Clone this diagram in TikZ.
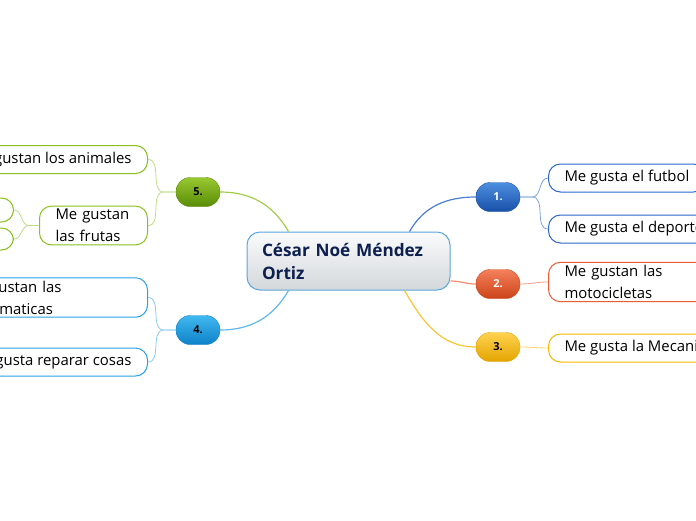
\documentclass[tikz,border=0pt]{standalone}
\usepackage{fontspec}
\setmainfont{Open Sans}
\usetikzlibrary{positioning,calc}
\definecolor{CoreLine}{RGB}{90,165,220}
\definecolor{CoreTop}{RGB}{250,251,252}
\definecolor{CoreBot}{RGB}{212,216,219}
\definecolor{CoreText}{RGB}{13,31,79}
\definecolor{OneTop}{RGB}{78,142,224}
\definecolor{OneBot}{RGB}{24,80,168}
\definecolor{OneLine}{RGB}{42,102,204}
\definecolor{TwoTop}{RGB}{244,128,92}
\definecolor{TwoBot}{RGB}{204,68,24}
\definecolor{TwoLine}{RGB}{238,90,48}
\definecolor{ThreeTop}{RGB}{255,210,80}
\definecolor{ThreeBot}{RGB}{227,164,0}
\definecolor{ThreeLine}{RGB}{248,184,0}
\definecolor{FourTop}{RGB}{64,184,240}
\definecolor{FourBot}{RGB}{14,130,200}
\definecolor{FourLine}{RGB}{42,160,232}
\definecolor{FiveTop}{RGB}{152,200,48}
\definecolor{FiveBot}{RGB}{90,140,8}
\definecolor{FiveLine}{RGB}{136,192,32}

\begin{document}
\begin{tikzpicture}[x=1pt, y=1pt,
  every node/.style={font=\fontsize{14.9}{22}\selectfont, align=left},
  ctrbox/.style={draw=CoreLine, line width=1pt, rounded corners=13pt, top color=CoreTop, bottom color=CoreBot,
    text width=173pt, minimum height=58pt, inner xsep=15pt, text=CoreText,
    font=\fontsize{17.2}{23}\selectfont\bfseries},
  topic/.style={rounded corners=14pt, minimum width=44pt, minimum height=29pt, inner sep=0pt,
    align=center, font=\fontsize{11}{13}\selectfont\bfseries},
  leaf/.style={draw, line width=1pt, rounded corners=12pt, fill=white, inner xsep=16pt, inner ysep=3pt,
    minimum height=28pt},
  link/.style={line width=1.2pt},
  twig/.style={line width=0.8pt}]
  \useasboundingbox (0,0) rectangle (696,-520);
  \clip (0,0) rectangle (696,-520);

  \node[ctrbox] (ctr) at (348.5,-261) {César Noé Méndez\\Ortiz};

  \node[topic, top color=OneTop, bottom color=OneBot, draw=OneBot, text=white] (t1) at (498,-197) {1.};
  \node[topic, top color=TwoTop, bottom color=TwoBot, draw=TwoBot, text=white] (t2) at (498,-284) {2.};
  \node[topic, top color=ThreeTop, bottom color=ThreeBot, draw=ThreeBot] (t3) at (498,-347) {3.};
  \node[topic, top color=FourTop, bottom color=FourBot, draw=FourBot] (t4) at (198,-330) {4.};
  \node[topic, top color=FiveTop, bottom color=FiveBot, draw=FiveBot] (t5) at (198,-192) {5.};

  \node[leaf, draw=OneLine, anchor=west] (l11) at (548,-178) {Me gusta el futbol};
  \node[leaf, draw=OneLine, anchor=west] (l12) at (548,-229) {Me gusta el deporte};
  \node[leaf, draw=TwoLine, anchor=west, text width=140pt] (l21) at (548,-282) {Me gustan las\\motocicletas};
  \node[leaf, draw=ThreeLine, anchor=west] (l31) at (548,-348) {Me gusta la Mecanica};
  \node[leaf, draw=FourLine, anchor=east, text width=168pt] (l41) at (148,-297.5) {Me gustan las\\matematicas};
  \node[leaf, draw=FourLine, anchor=east] (l42) at (148,-362) {Me gusta reparar cosas};
  \node[leaf, draw=FiveLine, anchor=east] (l51) at (148,-159.5) {Me gustan los animales};
  \node[leaf, draw=FiveLine, anchor=east, text width=76pt] (l52) at (148,-225.5) {Me gustan\\las frutas};
  \node[leaf, draw=FiveLine, anchor=east, minimum width=50pt, minimum height=24pt] (s1) at (14,-210) {};
  \node[leaf, draw=FiveLine, anchor=east, minimum width=50pt, minimum height=22pt] (s2) at (14,-239) {};

  % main branches
  \draw[link, OneLine!85] ([xshift=61pt]ctr.north) to[out=60,in=180] (t1.west);
  \draw[link, TwoLine!70] ([yshift=-20pt]ctr.east) to[out=0,in=180] (t2.west);
  \draw[link, ThreeLine!80] ([xshift=56pt]ctr.south) to[out=-60,in=180] (t3.west);
  \draw[link, FourLine!75] ([xshift=-60pt]ctr.south) to[out=-120,in=0] (t4.east);
  \draw[link, FiveLine!80] ([xshift=-60pt]ctr.north) to[out=120,in=0] (t5.east);

  % leaves
  \draw[twig, OneLine!60] (t1.east) -- ++(12,0) to[out=0,in=180] (l11.west);
  \draw[twig, OneLine!60] (t1.east) -- ++(12,0) to[out=0,in=180] (l12.west);
  \draw[twig, TwoLine!60] (t2.east) to[out=0,in=180] (l21.west);
  \draw[twig, ThreeLine!60] (t3.east) to[out=0,in=180] (l31.west);
  \draw[twig, FourLine!55] (t4.west) -- ++(-12,0) to[out=180,in=0] (l41.east);
  \draw[twig, FourLine!55] (t4.west) -- ++(-12,0) to[out=180,in=0] (l42.east);
  \draw[twig, FiveLine!55] (t5.west) -- ++(-12,0) to[out=180,in=0] (l51.east);
  \draw[twig, FiveLine!55] (t5.west) -- ++(-12,0) to[out=180,in=0] (l52.east);
  \draw[twig, FiveLine!55] (l52.west) -- ++(-10,0) to[out=180,in=0] (s1.east);
  \draw[twig, FiveLine!55] (l52.west) -- ++(-10,0) to[out=180,in=0] (s2.east);
\end{tikzpicture}
\end{document}
